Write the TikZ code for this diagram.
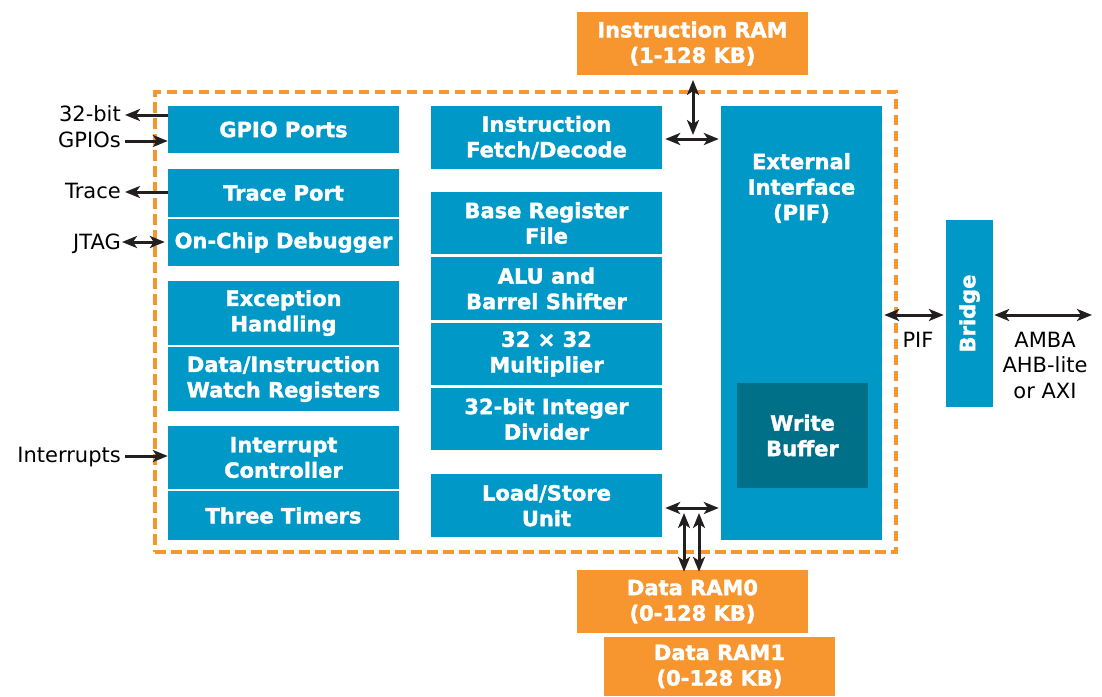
\documentclass[tikz,border=0pt]{standalone}
\usepackage{fontspec}
\setmainfont{DejaVu Sans}[BoldFeatures={FakeBold=1.6}]
\usetikzlibrary{arrows.meta,calc}
\definecolor{cblue}{HTML}{0099C7}
\definecolor{cdark}{HTML}{006F88}
\definecolor{corange}{HTML}{F7962F}
\definecolor{carrow}{HTML}{231F20}
\begin{document}
\begin{tikzpicture}[x=1pt,y=-1pt,
  txt/.style={font=\fontsize{21}{25.5}\selectfont, align=center, inner sep=0pt, text=black},
  blk/.style={fill=cblue, text=white, align=center, inner sep=0pt, font=\fontsize{21}{25.5}\selectfont\bfseries},
  ram/.style={blk, fill=corange},
  sz/.style 2 args={minimum width=#1pt, minimum height=#2pt},
  tip/.tip={Stealth[length=15pt,width=12pt,inset=4pt]},
  arr/.style={draw=carrow, line width=3pt, -tip},
  darr/.style={draw=carrow, line width=3pt, tip-tip},
  lbl/.style={txt, anchor=base east}
]
\useasboundingbox (0,0) rectangle (1102,696);

% core boundary
\node[draw=corange, dash pattern=on 10.5pt off 5.5pt, line width=3.3pt, sz={741}{460}] (core) at (525.5,322) {};

% left column
\node[blk, sz={231}{47}] (gpio) at (283.5,129.5) {GPIO Ports};
\node[blk, sz={231}{48}] (trace) at (283.5,193) {Trace Port};
\node[blk, sz={231}{47}] (ocd) at (283.5,242.5) {On-Chip Debugger};
\node[blk, sz={231}{64}] (exc) at (283.5,313) {Exception\\Handling};
\node[blk, sz={231}{64}] (watch) at (283.5,379) {Data/Instruction\\Watch Registers};
\node[blk, sz={231}{63}] (intc) at (283.5,457.5) {Interrupt\\Controller};
\node[blk, sz={231}{49}] (timers) at (283.5,515.5) {Three Timers};

% middle column
\node[blk, sz={231}{63}] (ifd) at (546.5,137.5) {Instruction\\Fetch/Decode};
\node[blk, sz={231}{62}] (brf) at (546.5,223) {Base Register\\File};
\node[blk, sz={231}{63}] (alu) at (546.5,288.5) {ALU and\\Barrel Shifter};
\node[blk, sz={231}{62}] (mul) at (546.5,354) {32 × 32\\Multiplier};
\node[blk, sz={231}{62}] (div) at (546.5,419) {32-bit Integer\\Divider};
\node[blk, sz={231}{63}] (lsu) at (546.5,505.5) {Load/Store\\Unit};

% external interface
\node[blk, sz={161}{434}] (pif) at (801.5,323) {};
\node[blk, fill=none] (piftext) at (801.5,188) {External\\Interface\\(PIF)};
\node[blk, fill=cdark, sz={131}{105}] (wbuf) at (802.5,435.5) {Write\\Buffer};

% bridge
\node[blk, sz={47}{187}] (bridge) at (969.5,313.5) {\rotatebox{90}{Bridge}};

% RAMs
\node[ram, sz={231}{63}] (iram) at (692.5,43.5) {Instruction RAM\\(1-128 KB)};
\node[ram, sz={231}{63}] (dram0) at (692.5,601.5) {Data RAM0\\(0-128 KB)};
\node[ram, sz={231}{59}] (dram1) at (719.5,666.5) {Data RAM1\\(0-128 KB)};

% left labels and arrows
\node[lbl] (l32) at (121,121) {32-bit};
\node[lbl] (lgp) at (121,147) {GPIOs};
\node[lbl] (ltr) at (121,198) {Trace};
\node[lbl] (ljt) at (121,249) {JTAG};
\node[lbl] (lint) at (121,462) {Interrupts};
\coordinate (a32) at (125,115);
\coordinate (agp) at (125,141);
\coordinate (atr) at (125,192);
\coordinate (ajt) at (122,242);
\coordinate (aint) at (125,456);
\draw[arr] (gpio.west|-a32) -- (a32);
\draw[arr] (agp) -- (gpio.west|-agp);
\draw[arr] (trace.west|-atr) -- (atr);
\draw[darr] (ajt) -- ([xshift=-3pt]ocd.west|-ajt);
\draw[arr] (aint) -- (intc.west|-aint);

% instruction bus
\coordinate (ibus) at (693,139);
\coordinate (ivtop) at (693,80);
\coordinate (ivbot) at (693,135);
\draw[darr] ([xshift=3pt]ifd.east|-ibus) -- ([xshift=-2pt]pif.west|-ibus);
\draw[darr] (ivtop) -- (ivbot);

% data bus
\coordinate (dbus) at (691,508);
\coordinate (dv0) at (684,513);
\coordinate (dv1) at (699,513);
\draw[darr] ([xshift=3pt]lsu.east|-dbus) -- ([xshift=-2pt]pif.west|-dbus);
\draw[darr] (dv0) -- ([yshift=-2pt]dram0.north-|dv0);
\draw[darr] (dv1) -- ([yshift=-2pt]dram0.north-|dv1);

% PIF and AMBA
\coordinate (pifc) at (915,315);
\coordinate (amba) at (1092,315);
\draw[darr] ([xshift=2pt]pif.east|-pifc) -- ([xshift=-2pt]bridge.west|-pifc);
\draw[darr] ([xshift=1pt]bridge.east|-pifc) -- (amba);
\node[txt] (piflbl) at (918,340) {PIF};
\node[txt] (ambalbl) at (1045,365) {AMBA\\AHB-lite\\or AXI};
\end{tikzpicture}
\end{document}
